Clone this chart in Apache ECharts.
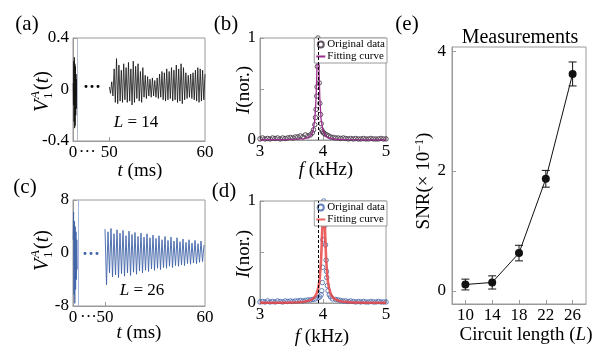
<!DOCTYPE html>
<html><head><meta charset="utf-8">
<script src="https://cdn.jsdelivr.net/npm/echarts@6/dist/echarts.min.js"></script>
<style>html,body{margin:0;padding:0;background:#fff}#c{width:600px;height:355px}</style>
</head><body><div id="c"></div>
<script>
// ---------- (a) L = 14 time signal (ms, V) ----------
const tA1 = [0.02,0.05,0.08,0.11,0.14,0.17,0.20,0.23,0.26,0.29,0.32,0.35,0.38,0.41];
const vA1 = [0.05,-0.12,0.22,-0.25,0.25,-0.30,0.20,-0.28,0.18,-0.20,0.12,-0.15,0.08,-0.06];
const tA2 = [50.000,50.125,50.250,50.375,50.500,50.625,50.750,50.875,
51.000,51.125,51.250,51.375,51.500,51.625,51.750,51.875,
52.000,52.125,52.250,52.375,52.500,52.625,52.750,52.875,
53.000,53.125,53.250,53.375,53.500,53.625,53.750,53.875,
54.000,54.125,54.250,54.375,54.500,54.625,54.750,54.875,
55.000,55.125,55.250,55.375,55.500,55.625,55.750,55.875,
56.000,56.125,56.250,56.375,56.500,56.625,56.750,56.875,
57.000,57.125,57.250,57.375,57.500,57.625,57.750,57.875,
58.000,58.125,58.250,58.375,58.500,58.625,58.750,58.875,
59.000,59.125,59.250,59.375,59.500,59.625,59.750,59.875,60.000];
const vA2 = [0.02,-0.03,0.06,-0.05,0.16,-0.10,0.24,-0.11,
0.19,-0.09,0.15,-0.10,0.20,-0.08,0.17,-0.10,
0.21,-0.09,0.16,-0.12,0.22,-0.10,0.18,-0.07,
0.20,-0.09,0.14,-0.10,0.17,-0.06,0.11,-0.07,
0.10,-0.05,0.08,-0.06,0.09,-0.05,0.07,-0.06,
0.09,-0.07,0.12,-0.06,0.14,-0.08,0.13,-0.09,
0.16,-0.08,0.14,-0.07,0.17,-0.09,0.15,-0.08,
0.19,-0.10,0.16,-0.09,0.20,-0.11,0.17,-0.08,
0.13,-0.07,0.11,-0.06,0.12,-0.07,0.13,-0.08,
0.15,-0.09,0.17,-0.10,0.16,-0.09,0.15,-0.08,0.12];
// ---------- (c) L = 26 time signal ----------
const tC1 = [0.02,0.06,0.10,0.14,0.18,0.22,0.26,0.30,0.34,0.38,0.42];
const vC1 = [2.0,6.2,-6.3,4.8,-7.6,4.0,-5.5,3.2,-4.0,2.0,-2.5];
const tC2 = [50.00,50.15,50.30,50.45,50.60,50.75,50.90,51.05,51.20,51.35,51.50,51.65,51.80,51.95,
52.10,52.25,52.40,52.55,52.70,52.85,53.00,53.15,53.30,53.45,53.60,53.75,53.90,54.05,54.20,54.35,
54.50,54.65,54.80,54.95,55.10,55.25,55.40,55.55,55.70,55.85,56.00,56.15,56.30,56.45,56.60,56.75,
56.90,57.05,57.20,57.35,57.50,57.65,57.80,57.95,58.10,58.25,58.40,58.55,58.70,58.85,59.00,59.15,
59.30,59.45,59.60,59.75,59.90];
const vC2 = [3.6,-4.8,3.2,-3.0,3.7,-3.6,2.9,-3.3,3.5,-3.7,3.0,-3.1,3.4,-3.5,
2.6,-3.0,3.3,-3.4,2.8,-2.9,3.1,-3.2,2.5,-2.7,3.0,-3.0,2.4,-2.6,2.9,-2.8,
2.3,-2.4,2.7,-2.6,2.2,-2.3,2.6,-2.5,2.0,-2.2,2.5,-2.3,1.9,-2.0,2.4,-2.2,
1.8,-1.9,2.3,-2.0,1.7,-1.8,2.1,-1.9,1.6,-1.6,2.0,-1.7,1.5,-1.5,1.9,-1.6,
1.4,-1.4,1.8,-1.3,1.2];
// ---------- (b) spectrum L = 14 ----------
const freqB = [3.00,3.04,3.08,3.12,3.16,3.20,3.24,3.28,3.32,3.36,3.40,3.44,3.48,3.52,3.56,3.60,3.64,3.68,3.72,3.76,
3.80,3.83,3.85,3.87,3.88,3.89,3.90,3.905,3.91,3.915,3.92,3.925,3.93,3.94,3.95,3.96,3.97,3.98,3.99,
4.01,4.03,4.06,4.09,
4.12,4.16,4.20,4.24,4.28,4.32,4.36,4.40,4.44,4.48,4.52,4.56,4.60,4.64,4.68,4.72,4.76,4.80,4.84,4.88,4.92,4.96,5.00];
const intB = [0.01,0.02,0.01,0.015,0.01,0.02,0.015,0.02,0.01,0.02,0.015,0.02,0.025,0.02,0.03,0.03,0.04,0.03,0.05,0.04,
0.05,0.07,0.10,0.15,0.22,0.30,0.43,0.52,0.72,0.88,1.00,0.93,0.82,0.56,0.36,0.25,0.16,0.10,0.08,
0.07,0.06,0.05,0.04,
0.03,0.025,0.02,0.02,0.015,0.02,0.015,0.01,0.015,0.01,0.015,0.01,0.01,0.015,0.01,0.01,0.015,0.01,0.01,0.01,0.015,0.01,0.01];
const freqFitB = [3.0,3.2,3.4,3.5,3.6,3.7,3.75,3.8,3.84,3.87,3.89,3.90,3.91,3.915,3.92,3.925,3.93,3.94,3.95,3.97,4.0,4.04,4.08,4.13,4.2,4.3,4.4,4.6,4.8,5.0];
const intFitB = [0.002,0.003,0.004,0.006,0.008,0.013,0.02,0.04,0.085,0.2,0.41,0.61,0.86,0.96,1.0,0.96,0.86,0.61,0.41,0.2,0.089,0.042,0.024,0.014,0.008,0.004,0.003,0.002,0.001,0.001];
// ---------- (d) spectrum L = 26 ----------
const freqD = [3.00,3.04,3.08,3.12,3.16,3.20,3.24,3.28,3.32,3.36,3.40,3.44,3.48,3.52,3.56,3.60,3.64,3.68,3.72,3.76,3.80,3.84,
3.88,3.92,3.95,3.97,3.98,3.99,3.995,4.00,4.005,4.01,4.015,4.02,4.03,4.04,4.05,4.055,4.06,4.07,4.08,4.10,4.12,4.15,
4.20,4.24,4.28,4.32,4.36,4.40,4.44,4.48,4.52,4.56,4.60,4.64,4.68,4.72,4.76,4.80,4.84,4.88,4.92,4.96,5.00];
const intD = [0.01,0.015,0.01,0.02,0.01,0.015,0.01,0.02,0.015,0.01,0.02,0.015,0.02,0.015,0.02,0.02,0.025,0.02,0.025,0.03,0.03,0.035,
0.04,0.05,0.06,0.08,0.12,0.2,0.35,0.62,0.85,1.0,0.97,0.93,0.76,0.57,0.42,0.31,0.25,0.17,0.12,0.08,0.06,0.04,
0.035,0.03,0.025,0.02,0.02,0.015,0.02,0.015,0.01,0.015,0.01,0.015,0.01,0.01,0.015,0.01,0.01,0.015,0.01,0.01,0.01];
const freqFitD = [3.0,3.2,3.4,3.6,3.7,3.8,3.86,3.9,3.93,3.95,3.97,3.98,3.99,4.0,4.005,4.01,4.015,4.02,4.03,4.04,4.05,4.07,4.09,4.12,4.16,4.22,4.3,4.45,4.7,5.0];
const intFitD = [0.001,0.002,0.003,0.007,0.013,0.027,0.052,0.092,0.16,0.25,0.43,0.58,0.75,0.92,0.98,1.0,0.98,0.92,0.75,0.58,0.43,0.25,0.16,0.092,0.052,0.027,0.014,0.006,0.003,0.001];
const refFreq = 3.92;
// ---------- (e) SNR measurements ----------
const lengths = [10,14,18,22,26];
const snr = [0.105,0.14,0.63,1.87,3.62];
const snrErr = [0.09,0.11,0.13,0.14,0.2];
const lengthTicks = [10,14,18,22,26];
const snrTicks = [0,2,4];

// ---------- styling / layout ----------
const SERIF = "'Liberation Serif','DejaVu Serif',serif";
const FRAME = '#9a9a9a';
const BLUE = '#3f63a8';
const TICK_FS = 17;
// broken time axis: early part kept, late part shifted next to it
const OFF_A = 46.2, OFF_C = 46.8;
const brk = (t, off) => (t < 10 ? t : t - off);
const pairs = (xs, ys, f) => xs.map((x, i) => [f ? f(x) : x, ys[i]]);

const grids = [
  {left: 73, top: 38, width: 132, height: 103},
  {left: 260, top: 38, width: 126, height: 102},
  {left: 73, top: 200, width: 132, height: 106},
  {left: 260, top: 201, width: 126, height: 102},
  {left: 452, top: 47, width: 134, height: 257}
].map(g => Object.assign(g, {show: true, borderColor: FRAME, borderWidth: 1, containLabel: false, outerBoundsMode: 'none'}));

function ax(idx, o) {
  const base = {
    type: 'value', gridIndex: idx,
    axisLine: {show: true, onZero: false, lineStyle: {color: FRAME, width: 1}},
    axisTick: {show: true, inside: true, length: 4, lineStyle: {color: FRAME}},
    splitLine: {show: false},
    axisLabel: {fontFamily: SERIF, fontSize: TICK_FS, color: '#000', margin: 4, showMinLabel: true, showMaxLabel: true, hideOverlap: false}
  };
  const r = Object.assign({}, base, o);
  r.axisLabel = Object.assign({}, base.axisLabel, o.axisLabel || {});
  r.axisTick = Object.assign({}, base.axisTick, o.axisTick || {});
  return r;
}
const timeFmt = v => (v < 0.6 ? '0' : v < 2.6 ? '\u00b7\u00b7\u00b7' : v < 6 ? '50' : '60');

const xAxis = [
  ax(0, {min: 0, max: 13.8, axisLabel: {customValues: [0, 1.5, 3.8, 13.8], formatter: timeFmt, margin: 3}, axisTick: {customValues: [3.8]}}),
  ax(1, {min: 3, max: 5, interval: 1, axisLabel: {margin: 3}}),
  ax(2, {min: 0, max: 13.2, axisLabel: {customValues: [0, 1.55, 3.2, 13.2], formatter: timeFmt, margin: 3}, axisTick: {customValues: [3.2]}}),
  ax(3, {min: 3, max: 5, interval: 1, axisLabel: {margin: 3}}),
  ax(4, {min: 8, max: 28, axisLabel: {customValues: lengthTicks, margin: 3}, axisTick: {customValues: lengthTicks}})
];
const yAxis = [
  ax(0, {min: -0.4, max: 0.4, interval: 0.4}),
  ax(1, {min: 0, max: 1, interval: 0.5, axisLabel: {formatter: v => (v === 0.5 ? '' : String(v))}}),
  ax(2, {min: -8, max: 8, interval: 8}),
  ax(3, {min: 0, max: 1, interval: 0.5, axisLabel: {formatter: v => (v === 0.5 ? '' : String(v))}}),
  ax(4, {min: -0.22, max: 4.07, axisLabel: {customValues: snrTicks, margin: 6}, axisTick: {customValues: snrTicks}})
];

const divider = (x, color) => ({silent: true, symbol: ['none', 'none'], label: {show: false},
  lineStyle: {color: color, width: 1, type: 'solid'}, data: [{xAxis: x}]});

const series = [
  {type: 'line', xAxisIndex: 0, yAxisIndex: 0, data: pairs(tA1, vA1), symbol: 'none', lineStyle: {color: '#111', width: 0.8}},
  {type: 'line', xAxisIndex: 0, yAxisIndex: 0, data: pairs(tA2, vA2, t => brk(t, OFF_A)), symbol: 'none',
    lineStyle: {color: '#111', width: 0.8}, markLine: divider(0.44, '#b3bccb')},
  {type: 'line', xAxisIndex: 2, yAxisIndex: 2, data: pairs(tC1, vC1), symbol: 'none', lineStyle: {color: BLUE, width: 0.9}},
  {type: 'line', xAxisIndex: 2, yAxisIndex: 2, data: pairs(tC2, vC2, t => brk(t, OFF_C)), symbol: 'none',
    lineStyle: {color: BLUE, width: 0.9}, markLine: divider(0.5, '#a9bbdc')},
  {name: 'Fitting curve', type: 'line', xAxisIndex: 1, yAxisIndex: 1, data: pairs(freqFitB, intFitB), symbol: 'none',
    lineStyle: {color: '#9c2f8e', width: 1.3}, itemStyle: {color: '#9c2f8e'}, z: 3,
    markLine: {silent: true, symbol: ['none', 'none'], label: {show: false}, lineStyle: {color: '#000', width: 1, type: [3, 2]}, data: [{xAxis: refFreq}]}},
  {name: 'Original data', type: 'scatter', xAxisIndex: 1, yAxisIndex: 1, data: pairs(freqB, intB), symbol: 'circle', symbolSize: 4.5,
    itemStyle: {color: 'rgba(0,0,0,0)', borderColor: '#3a2c3a', borderWidth: 1}, z: 2},
  {name: 'Fitting curve ', type: 'line', xAxisIndex: 3, yAxisIndex: 3, data: pairs(freqFitD, intFitD), symbol: 'none',
    lineStyle: {color: 'rgba(232,70,70,0.85)', width: 2.6}, itemStyle: {color: '#e84646'},
    markLine: {silent: true, symbol: ['none', 'none'], label: {show: false}, lineStyle: {color: '#000', width: 1, type: [3, 2]}, data: [{xAxis: refFreq}]}},
  {name: 'Original data ', type: 'scatter', xAxisIndex: 3, yAxisIndex: 3, data: pairs(freqD, intD), symbol: 'circle', symbolSize: 4.5,
    itemStyle: {color: 'rgba(0,0,0,0)', borderColor: BLUE, borderWidth: 1}},
  {type: 'line', xAxisIndex: 4, yAxisIndex: 4, data: pairs(lengths, snr), symbol: 'circle', symbolSize: 8,
    lineStyle: {color: '#111', width: 1}, itemStyle: {color: '#111'}},
  {type: 'custom', xAxisIndex: 4, yAxisIndex: 4, data: lengths.map((l, i) => [l, snr[i], snrErr[i]]),
    renderItem: (params, api) => {
      const x = api.value(0), y = api.value(1), e = api.value(2);
      const top = api.coord([x, y + e]), bot = api.coord([x, y - e]);
      const w = 4, st = {stroke: '#111', lineWidth: 1};
      return {type: 'group', children: [
        {type: 'line', shape: {x1: top[0], y1: top[1], x2: bot[0], y2: bot[1]}, style: st},
        {type: 'line', shape: {x1: top[0] - w, y1: top[1], x2: top[0] + w, y2: top[1]}, style: st},
        {type: 'line', shape: {x1: bot[0] - w, y1: bot[1], x2: bot[0] + w, y2: bot[1]}, style: st}
      ]};
    }}
];

const legendBase = {orient: 'vertical', right: 213, itemGap: 1, itemWidth: 9, itemHeight: 6, padding: [1, 2, 1, 1],
  borderColor: FRAME, borderWidth: 1, backgroundColor: '#fff', selectedMode: false,
  textStyle: {fontFamily: SERIF, fontSize: 11, color: '#000', padding: [0, 0, 0, -3]}, formatter: n => n.trim()};
const hiddenSym = {opacity: 0};
const legend = [
  Object.assign({}, legendBase, {top: 38, data: [{name: 'Original data', icon: 'circle'}, {name: 'Fitting curve', itemStyle: hiddenSym}]}),
  Object.assign({}, legendBase, {top: 201, data: [{name: 'Original data ', icon: 'circle'}, {name: 'Fitting curve ', itemStyle: hiddenSym}]})
];

function T(x, y, text, size, extra) {
  return Object.assign({type: 'text', x: x, y: y, silent: true,
    style: Object.assign({text: text, fontFamily: SERIF, fontSize: size, fill: '#000', textAlign: 'center', textVerticalAlign: 'middle',
      rich: {i: {fontFamily: SERIF, fontSize: size, fontStyle: 'italic'}}}, (extra && extra.style) || {})},
    extra && extra.rotation !== undefined ? {rotation: extra.rotation} : {});
}
const R90 = Math.PI / 2;
function vLabel(cx, cy) {
  const S = {fontFamily: SERIF, fill: '#000', textVerticalAlign: 'middle', textAlign: 'left'};
  return {type: 'group', x: cx, y: cy, rotation: R90, silent: true, children: [
    {type: 'text', x: -21, y: 0, style: Object.assign({}, S, {text: 'V', fontSize: 20, fontStyle: 'italic'})},
    {type: 'text', x: -8, y: -7, style: Object.assign({}, S, {text: 'A', fontSize: 13, fontStyle: 'italic'})},
    {type: 'text', x: -8, y: 6, style: Object.assign({}, S, {text: '1', fontSize: 13})},
    {type: 'text', x: 1, y: 0, style: Object.assign({}, S, {text: '({i|t})', fontSize: 20,
      rich: {i: {fontFamily: SERIF, fontSize: 20, fontStyle: 'italic'}}})}
  ]};
}

const graphic = [
  T(27, 24, '(a)', 21), T(226, 24, '(b)', 21), T(25, 187, '(c)', 21), T(224, 191, '(d)', 21), T(407, 24, '(e)', 21),
  T(520, 38, 'Measurements', 20),
  T(140, 171, '{i|t} (ms)', 19), T(139, 333, '{i|t} (ms)', 19),
  T(326, 170, '{i|f} (kHz)', 19), T(322, 337, '{i|f} (kHz)', 19),
  T(244, 90, '{i|I}(nor.)', 19, {rotation: R90}), T(244, 254, '{i|I}(nor.)', 19, {rotation: R90}),
  T(526, 335, 'Circuit length ({i|L})', 19),
  T(424, 181, 'SNR(\u00d7 10{s|\u22121})', 19, {rotation: R90, style: {rich: {s: {fontFamily: SERIF, fontSize: 12, verticalAlign: 'top', lineHeight: 20}}, lineHeight: 20}}),
  T(136, 123, '{i|L} = 14', 17), T(142, 291, '{i|L} = 26', 17),
  T(92, 88, '\u00b7\u00b7\u00b7', 18, {style: {fontWeight: 'bold'}}),
  T(91, 255, '\u00b7\u00b7\u00b7', 18, {style: {fontWeight: 'bold', fill: BLUE}}),
  vLabel(43, 91), vLabel(43, 250)
];

const chart = echarts.init(document.getElementById('c'), null, {renderer: 'canvas'});
chart.setOption({animation: false, backgroundColor: '#fff', grid: grids, xAxis: xAxis, yAxis: yAxis,
  legend: legend, series: series, graphic: graphic, tooltip: {show: false}});
</script></body></html>
